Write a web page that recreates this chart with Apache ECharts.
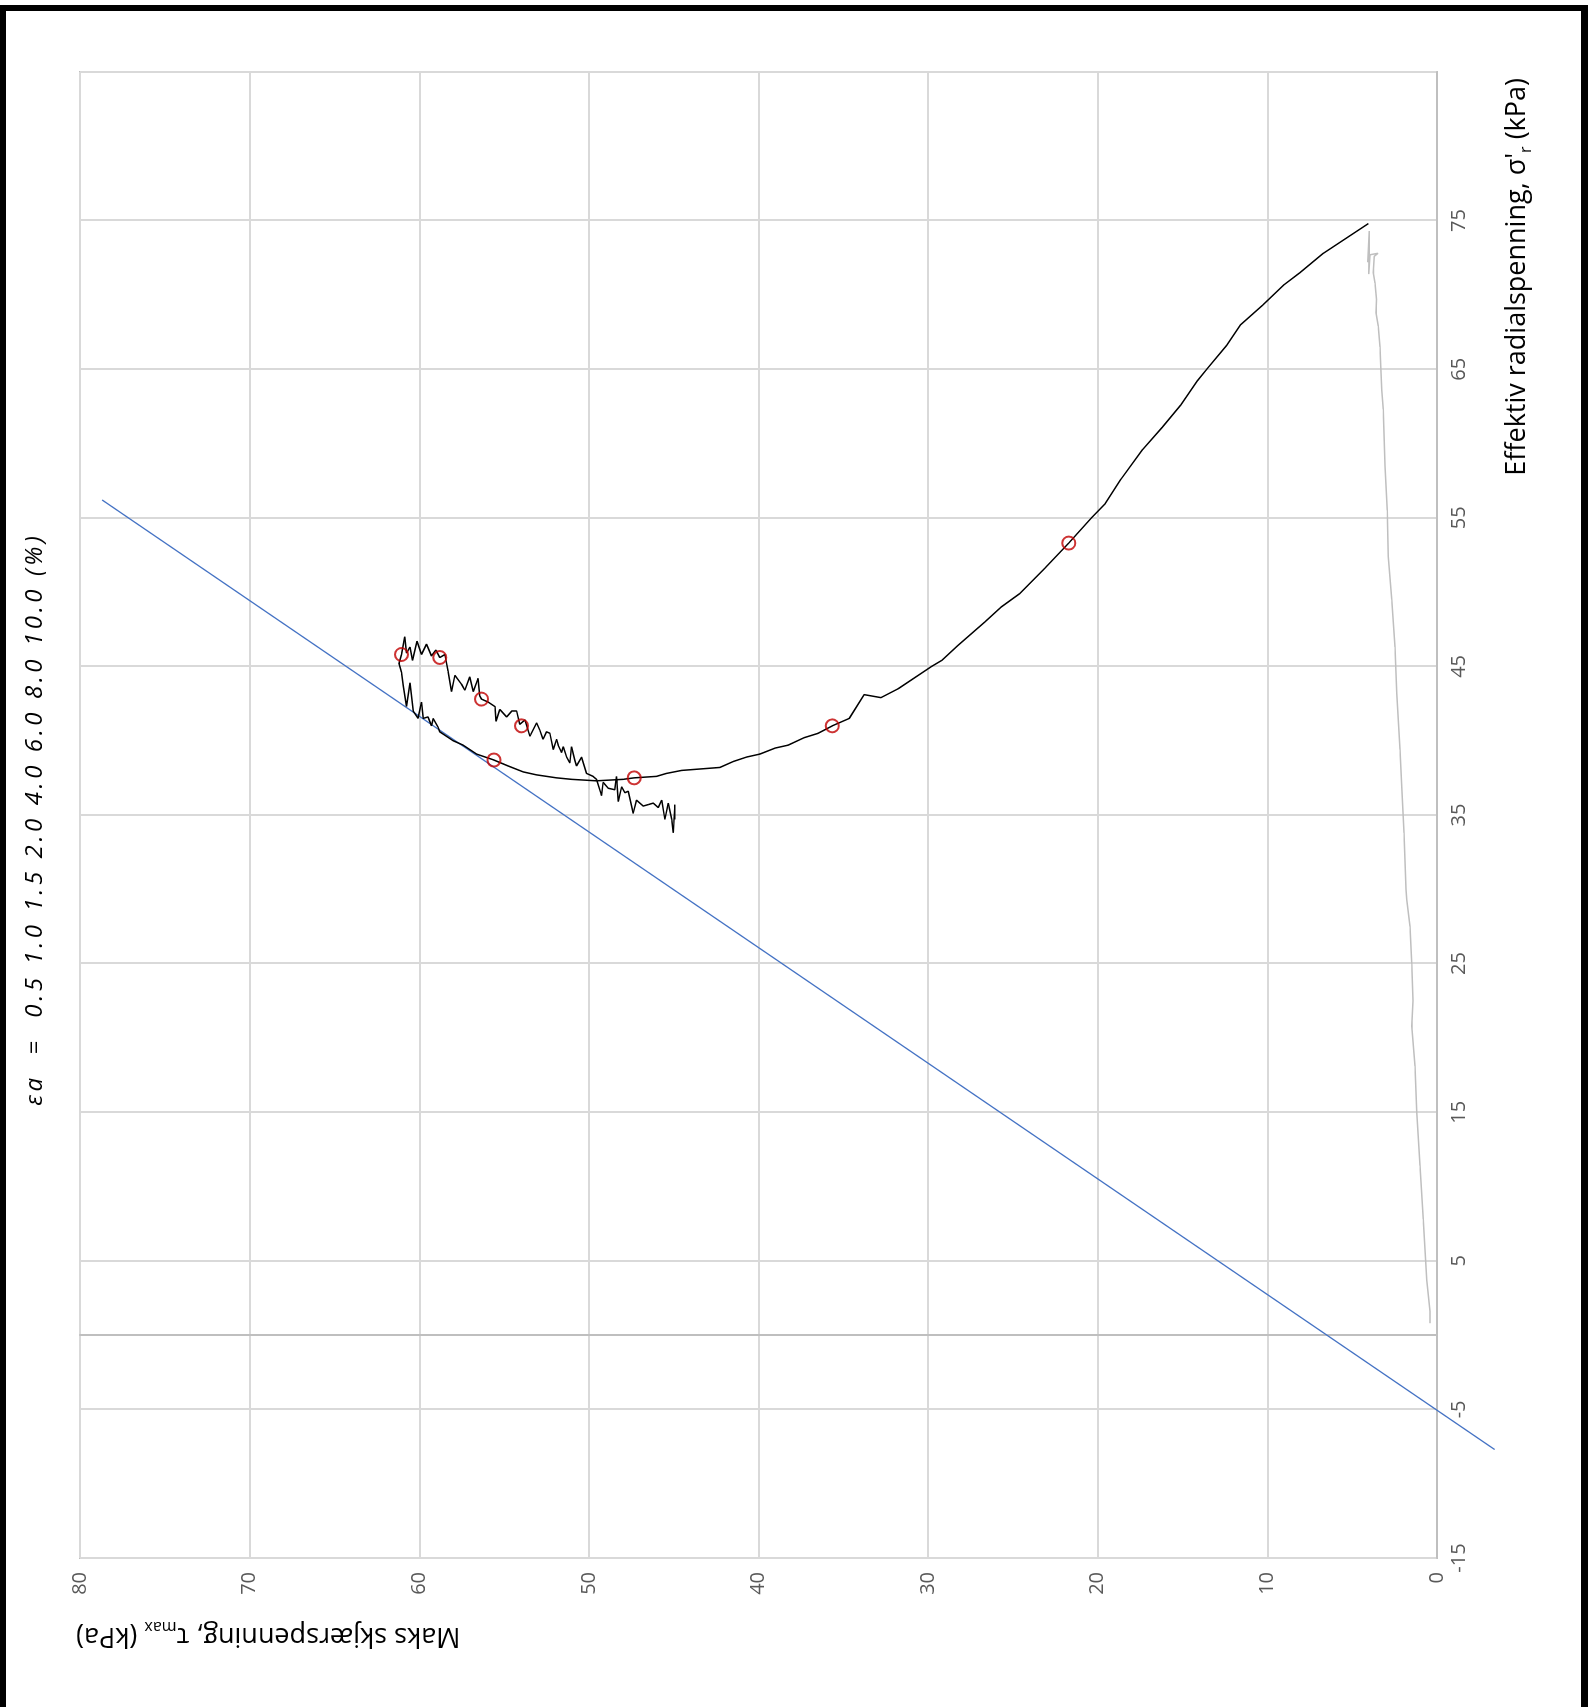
<!DOCTYPE html>
<html>
<head>
<meta charset="utf-8">
<script src="https://cdn.jsdelivr.net/npm/echarts@6/dist/echarts.min.js"></script>
<style>
  html, body { margin: 0; padding: 0; background: #fff; overflow: hidden; }
  #page { position: absolute; left: 0; top: 0; width: 1588px; height: 1707px; overflow: hidden; background: #fff; }
  /* the chart is laid out landscape (σ'r across, τmax up) and turned a quarter turn anticlockwise */
  #chart { position: absolute; left: 0; top: 0; width: 1707px; height: 1588px;
           transform-origin: 0 0; transform: translate(0px, 1707px) rotate(-90deg); }
</style>
</head>
<body>
<div id="page"><div id="chart"></div></div>
<script>
// Consolidation stage: effective radial stress σ'r (kPa) and max shear stress τmax (kPa)
const consolSigma = [0.8, 1.6, 1.7, 3.7, 7.8, 11.4, 15.0, 18.1, 20.8, 22.5, 25.0, 27.5,
                     29.3, 30.0, 33.8, 36.9, 39.4, 43.2, 46.3, 49.5, 52.4, 55.5,
                     58.5, 62.3, 63.6, 65.2, 66.5, 67.9, 68.8, 69.7, 70.8, 71.5,
                     72.6, 72.8, 72.7, 71.4, 73.5, 74.3, 72.2, 72.9];
const consolTau   = [0.42, 0.41, 0.51, 0.61, 0.81, 1.00, 1.20, 1.30, 1.49, 1.42, 1.49, 1.59,
                     1.79, 1.83, 1.95, 2.08, 2.18, 2.38, 2.48, 2.67, 2.87, 2.93,
                     3.07, 3.17, 3.26, 3.32, 3.36, 3.46, 3.60, 3.56, 3.66, 3.76,
                     3.70, 3.48, 3.95, 4.02, 4.00, 3.99, 4.08, 4.00];

// Shearing stage: stress path σ'r / τmax (kPa)
const shearSigma = [74.8, 72.8, 71.5, 70.7, 69.3, 68.0, 66.6, 65.1, 64.2, 62.6,
                    61.1, 59.6, 57.6, 55.9, 55.0, 53.3, 51.6, 49.9, 49.0, 48.0,
                    46.4, 45.4, 45.0, 43.5, 42.9, 43.1, 41.5, 41.0, 40.5, 40.2,
                    39.7, 39.5, 39.1, 38.9, 38.6, 38.2, 38.0, 37.8, 37.6, 37.5,
                    37.4, 37.3, 37.4, 37.5, 37.7, 37.9, 38.3, 38.7, 39.1, 39.7,
                    40.0, 40.6, 40.9, 41.5, 41.0, 41.6, 41.5, 42.6, 41.5, 42.0,
                    43.9, 42.3, 43.7, 44.6, 45.2, 45.8, 47.0, 45.9, 46.3, 45.4,
                    46.7, 45.8, 46.5, 45.7, 46.1, 45.6, 45.8, 44.7, 43.3, 44.4,
                    43.8, 43.4, 44.3, 43.3, 44.2, 43.0, 42.8, 42.6, 42.3, 41.3,
                    42.1, 41.6, 42.0, 42.0, 41.1, 41.0, 41.4, 40.3, 41.2, 40.7,
                    40.1, 40.6, 40.5, 39.4, 40.1, 39.7, 39.2, 39.6, 38.9, 38.5,
                    39.6, 38.7, 38.3, 38.9, 37.8, 37.6, 37.4, 36.3, 37.2, 36.8,
                    36.7, 37.6, 35.9, 36.9, 36.5, 36.6, 35.1, 36.0, 35.6, 35.7,
                    35.8, 35.5, 36.0, 34.7, 35.8, 34.7, 33.8, 35.7, 34.7];
const shearTau   = [4.05, 6.70, 8.08, 9.00, 10.29, 11.57, 12.40, 13.50, 14.14, 15.10,
                    16.19, 17.35, 18.63, 19.60, 20.37, 21.71, 23.12, 24.60, 25.69, 26.65,
                    28.25, 29.20, 29.79, 31.76, 32.78, 33.77, 34.65, 35.65, 36.48, 37.32,
                    38.25, 39.03, 39.92, 40.70, 41.49, 42.28, 44.53, 45.42, 46.01, 47.33,
                    47.98, 49.55, 51.02, 51.90, 53.08, 53.87, 54.76, 55.60, 56.62, 57.41,
                    58.00, 58.79, 58.89, 59.18, 59.28, 59.48, 59.77, 59.87, 60.07, 60.36,
                    60.55, 60.75, 60.95, 61.05, 61.19, 61.05, 60.85, 60.75, 60.55, 60.40,
                    60.13, 59.87, 59.57, 59.28, 59.02, 58.79, 58.49, 58.30, 58.10, 57.90,
                    57.51, 57.31, 57.02, 56.82, 56.53, 56.43, 56.33, 55.94, 55.54, 55.48,
                    55.25, 54.85, 54.54, 54.26, 54.07, 53.97, 53.77, 53.48, 53.08, 52.89,
                    52.70, 52.50, 52.30, 52.10, 51.90, 51.81, 51.61, 51.51, 51.31, 51.12,
                    51.02, 50.83, 50.73, 50.43, 50.14, 49.75, 49.55, 49.25, 49.16, 48.86,
                    48.47, 48.37, 48.27, 48.07, 47.88, 47.68, 47.39, 47.19, 46.80, 46.50,
                    46.21, 45.91, 45.71, 45.52, 45.32, 45.12, 45.03, 44.93, 44.93];

// Points on the stress path at given axial strains εa (%)
const strainPct   = [0.5, 1.0, 1.5, 2.0, 4.0, 6.0, 8.0, 10.0];
const strainSigma = [53.3, 41.0, 37.5, 38.7, 45.8, 45.6, 42.8, 41.0];
const strainTau   = [21.71, 35.65, 47.33, 55.60, 61.05, 58.79, 56.33, 53.97];

// Strength envelope, end points
const envSigma = [-7.7, 56.2];
const envTau   = [-3.4, 78.7];

const zip = (xs, ys) => xs.map((x, i) => [x, ys[i]]);

const GREY_TEXT = '#595959';
const FONT = '"Open Sans", "Noto Sans", sans-serif';

// Title with widened character spacing
const titleText = 'εa  =  ' + strainPct.map(v => v.toFixed(1)).join(' ') + ' (%)';
const spaced = s => Array.from(s).map(ch => '{c|' + ch + '}').join('');

const chart = echarts.init(document.getElementById('chart'), null, { renderer: 'canvas', width: 1707, height: 1588 });

chart.setOption({
  animation: false,
  backgroundColor: '#ffffff',
  grid: {
    left: 149, right: 72, top: 80, bottom: 151,
    show: true, borderColor: '#bfbfbf', borderWidth: 2,
    containLabel: false, outerBoundsMode: 'none'
  },
  xAxis: {
    type: 'value', min: -15, max: 85, interval: 10,
    axisLine: { show: true, onZero: false, lineStyle: { color: '#bfbfbf', width: 2 } },
    axisTick: { show: false },
    axisLabel: { color: GREY_TEXT, fontFamily: FONT, fontSize: 20, margin: 12, showMaxLabel: false },
    splitLine: { show: true, lineStyle: { color: '#d9d9d9', width: 2 } }
  },
  yAxis: [
    {
      type: 'value', min: 0, max: 80, interval: 10, position: 'left',
      axisLine: { show: false, onZero: false },
      axisTick: { show: false },
      axisLabel: { color: GREY_TEXT, fontFamily: FONT, fontSize: 20, margin: 14 },
      splitLine: { show: true, lineStyle: { color: '#d9d9d9', width: 2 } }
    },
    {
      // zero line of σ'r
      type: 'value', min: 0, max: 80, interval: 10, position: 'left',
      axisLine: { show: true, onZero: true, onZeroAxisIndex: 0, lineStyle: { color: '#bfbfbf', width: 2 } },
      axisTick: { show: false },
      axisLabel: { show: false },
      splitLine: { show: false }
    }
  ],
  series: [
    {
      name: 'Konsolidering', type: 'line', data: zip(consolSigma, consolTau),
      symbol: 'none', lineStyle: { color: '#bfbfbf', width: 1.5 },
      emphasis: { disabled: true }, z: 2
    },
    {
      name: 'Brudd', type: 'line', data: zip(envSigma, envTau), clip: false,
      symbol: 'none', lineStyle: { color: '#4472c4', width: 1.3 },
      emphasis: { disabled: true }, z: 3
    },
    {
      name: 'Spenningssti', type: 'line', data: zip(shearSigma, shearTau),
      symbol: 'none', lineStyle: { color: '#000000', width: 1.5 },
      emphasis: { disabled: true }, z: 4
    },
    {
      name: 'εa', type: 'scatter', data: zip(strainSigma, strainTau),
      symbol: 'circle', symbolSize: 13,
      itemStyle: { color: 'rgba(0,0,0,0)', borderColor: '#c00000', borderWidth: 2 },
      emphasis: { disabled: true }, z: 5
    }
  ],
  graphic: [
    {
      type: 'text', x: 886, y: 35, silent: true,
      style: {
        text: spaced(titleText),
        rich: { c: { fontFamily: FONT, fontStyle: 'italic', fontSize: 24, color: '#9a9a9a', padding: [0, 1.8, 0, 1.8] } },
        align: 'center', verticalAlign: 'middle', textAlign: 'center', textVerticalAlign: 'middle'
      }
    },
    {
      type: 'text', x: 71, y: 76, rotation: Math.PI / 2, silent: true,
      style: {
        text: '{n|Maks skjærspenning, τ}{s|max}{n| (kPa)}',
        rich: {
          n: { fontFamily: FONT, fontSize: 27, color: GREY_TEXT, lineHeight: 34 },
          s: { fontFamily: FONT, fontSize: 16, color: GREY_TEXT, lineHeight: 15, verticalAlign: 'bottom' }
        },
        align: 'right', verticalAlign: 'middle', textAlign: 'right', textVerticalAlign: 'middle'
      }
    },
    {
      type: 'text', x: 1629, y: 1517, silent: true,
      style: {
        text: "{n|Effektiv radialspenning, σ'}{s|r}{n| (kPa)}",
        rich: {
          n: { fontFamily: FONT, fontSize: 27, color: GREY_TEXT, lineHeight: 34 },
          s: { fontFamily: FONT, fontSize: 16, color: GREY_TEXT, lineHeight: 15, verticalAlign: 'bottom' }
        },
        align: 'right', verticalAlign: 'middle', textAlign: 'right', textVerticalAlign: 'middle'
      }
    },
    // frame
    { type: 'rect', silent: true, shape: { x: 1696, y: 0, width: 6, height: 1588 }, style: { fill: '#000' } },
    { type: 'rect', silent: true, shape: { x: 0, y: 0, width: 1702, height: 6 }, style: { fill: '#000' } },
    { type: 'rect', silent: true, shape: { x: 0, y: 1581, width: 1702, height: 7 }, style: { fill: '#000' } }
  ]
});
</script>
</body>
</html>
